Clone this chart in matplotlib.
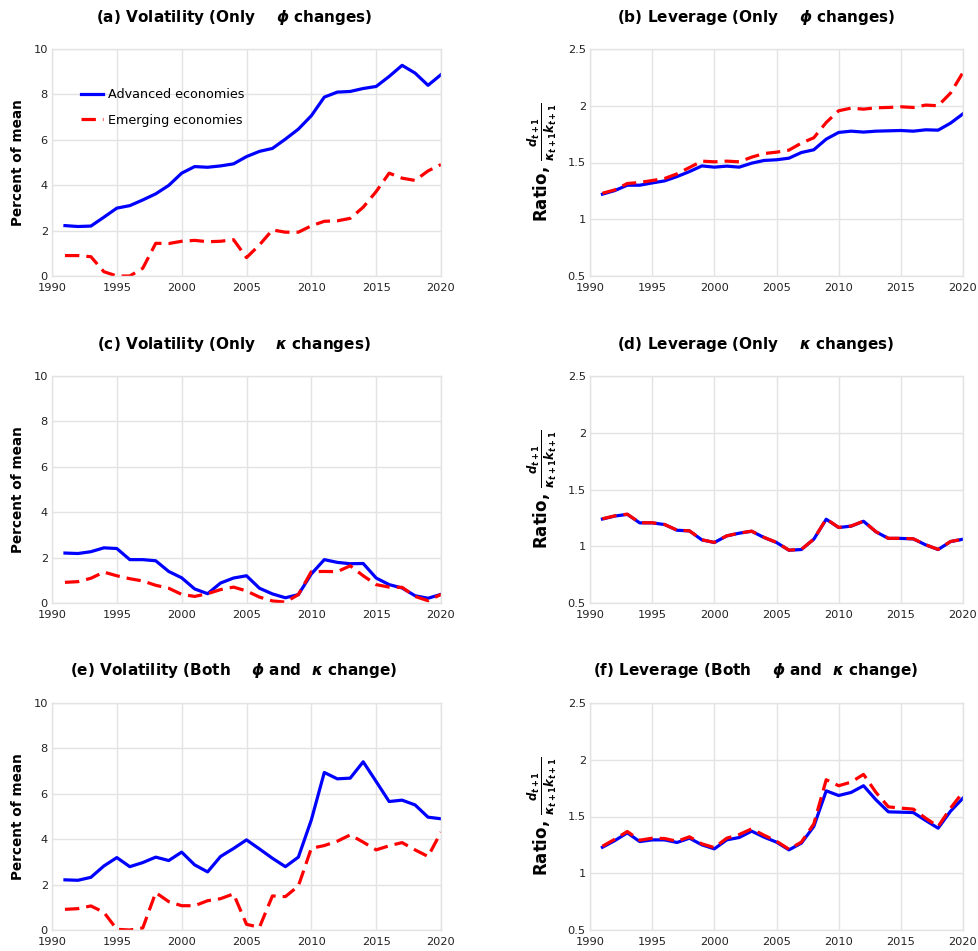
import matplotlib
matplotlib.use("Agg")
import matplotlib.pyplot as plt

# bold math symbols in titles and the ratio label
plt.rcParams["mathtext.fontset"] = "custom"
plt.rcParams["mathtext.it"] = "DejaVu Sans:italic:bold"
plt.rcParams["mathtext.rm"] = "DejaVu Sans:bold"
plt.rcParams["mathtext.bf"] = "DejaVu Sans:bold"

years = list(range(1991, 2021))

# (a) volatility, only phi changes
vol_phi_adv = [2.22, 2.18, 2.20, 2.59, 2.99, 3.10, 3.35, 3.62, 3.99, 4.53,
               4.82, 4.79, 4.85, 4.94, 5.26, 5.49, 5.62, 6.03, 6.47, 7.06,
               7.88, 8.10, 8.13, 8.26, 8.35, 8.79, 9.28, 8.94, 8.40, 8.87]
vol_phi_emg = [0.90, 0.90, 0.85, 0.19, 0.00, 0.00, 0.34, 1.44, 1.43, 1.53,
               1.57, 1.51, 1.53, 1.60, 0.81, 1.37, 2.03, 1.93, 1.93, 2.21,
               2.41, 2.43, 2.54, 3.03, 3.72, 4.53, 4.31, 4.21, 4.63, 4.91]

# (b) leverage, only phi changes
lev_phi_adv = [1.221, 1.253, 1.300, 1.300, 1.320, 1.338, 1.376, 1.420, 1.470, 1.459,
               1.468, 1.459, 1.494, 1.518, 1.524, 1.538, 1.588, 1.612, 1.706, 1.765,
               1.776, 1.768, 1.776, 1.779, 1.782, 1.776, 1.788, 1.785, 1.847, 1.929]
lev_phi_emg = [1.229, 1.259, 1.315, 1.324, 1.341, 1.359, 1.400, 1.456, 1.512, 1.506,
               1.512, 1.506, 1.547, 1.579, 1.591, 1.609, 1.671, 1.718, 1.853, 1.956,
               1.979, 1.970, 1.982, 1.985, 1.991, 1.985, 2.006, 2.000, 2.112, 2.294]

# (c) volatility, only kappa changes
vol_kap_adv = [2.20, 2.18, 2.26, 2.43, 2.40, 1.91, 1.91, 1.86, 1.39, 1.11,
               0.62, 0.41, 0.88, 1.10, 1.20, 0.65, 0.40, 0.23, 0.37, 1.28,
               1.91, 1.79, 1.73, 1.74, 1.10, 0.81, 0.66, 0.32, 0.21, 0.38]
vol_kap_emg = [0.91, 0.94, 1.09, 1.36, 1.20, 1.07, 0.97, 0.78, 0.65, 0.38,
               0.29, 0.41, 0.59, 0.70, 0.53, 0.26, 0.09, 0.04, 0.37, 1.38,
               1.39, 1.38, 1.64, 1.20, 0.81, 0.70, 0.69, 0.29, 0.10, 0.38]

# (d) leverage, only kappa changes
lev_kap_adv = [1.240, 1.266, 1.281, 1.206, 1.206, 1.191, 1.141, 1.135, 1.056, 1.033,
               1.091, 1.115, 1.132, 1.077, 1.033, 0.965, 0.971, 1.062, 1.238, 1.165,
               1.177, 1.220, 1.127, 1.069, 1.069, 1.065, 1.012, 0.971, 1.041, 1.062]
lev_kap_emg = [1.242, 1.268, 1.283, 1.207, 1.207, 1.192, 1.142, 1.136, 1.057, 1.034,
               1.092, 1.116, 1.133, 1.078, 1.034, 0.966, 0.972, 1.063, 1.240, 1.166,
               1.178, 1.221, 1.128, 1.070, 1.070, 1.066, 1.013, 0.972, 1.042, 1.063]

# (e) volatility, both change
vol_both_adv = [2.21, 2.19, 2.32, 2.82, 3.19, 2.79, 2.97, 3.21, 3.06, 3.43,
                2.87, 2.56, 3.24, 3.59, 3.97, 3.57, 3.16, 2.79, 3.21, 4.85,
                6.94, 6.66, 6.69, 7.41, 6.54, 5.66, 5.72, 5.51, 4.97, 4.90]
vol_both_emg = [0.91, 0.94, 1.06, 0.78, 0.03, 0.00, 0.09, 1.65, 1.25, 1.07,
                1.07, 1.29, 1.38, 1.59, 0.25, 0.12, 1.50, 1.47, 1.94, 3.60,
                3.72, 3.91, 4.19, 3.87, 3.53, 3.71, 3.85, 3.53, 3.24, 4.31]

# (f) leverage, both change
lev_both_adv = [1.229, 1.288, 1.356, 1.279, 1.294, 1.294, 1.271, 1.309, 1.250, 1.215,
                1.294, 1.315, 1.371, 1.318, 1.274, 1.206, 1.265, 1.412, 1.726, 1.685,
                1.712, 1.771, 1.647, 1.541, 1.538, 1.535, 1.465, 1.397, 1.547, 1.662]
lev_both_emg = [1.238, 1.300, 1.368, 1.291, 1.309, 1.306, 1.282, 1.321, 1.259, 1.226,
                1.309, 1.341, 1.391, 1.335, 1.282, 1.212, 1.274, 1.435, 1.824, 1.771,
                1.803, 1.871, 1.712, 1.585, 1.574, 1.565, 1.485, 1.412, 1.574, 1.715]

titles = [
    r"(a) Volatility (Only    $\phi$ changes)",
    r"(b) Leverage (Only    $\phi$ changes)",
    r"(c) Volatility (Only    $\kappa$ changes)",
    r"(d) Leverage (Only    $\kappa$ changes)",
    r"(e) Volatility (Both    $\phi$ and  $\kappa$ change)",
    r"(f) Leverage (Both    $\phi$ and  $\kappa$ change)",
]
panels = [
    (vol_phi_adv, vol_phi_emg), (lev_phi_adv, lev_phi_emg),
    (vol_kap_adv, vol_kap_emg), (lev_kap_adv, lev_kap_emg),
    (vol_both_adv, vol_both_emg), (lev_both_adv, lev_both_emg),
]

W, H = 979, 951
fig = plt.figure(figsize=(W / 100, H / 100), dpi=100)

# axes boxes in pixels: left, right, top, bottom
col_x = [(52, 441), (590, 963)]
row_y = [(49, 276), (376, 603), (703, 930)]
title_x = [234, 756]
title_y = [17, 344, 670]

grid_col = "#e3e3e3"
for i, (title, (adv, emg)) in enumerate(zip(titles, panels)):
    r, c = divmod(i, 2)
    x0, x1 = col_x[c]
    y0, y1 = row_y[r]
    ax = fig.add_axes([x0 / W, 1 - y1 / H, (x1 - x0) / W, (y1 - y0) / H])

    ax.plot(years, adv, color="#0000ff", lw=2.3, label="Advanced economies")
    ax.plot(years, emg, color="#ff0000", lw=2.3, dashes=(4.5, 2.2),
            label="Emerging economies")

    ax.set_xlim(1990, 2020)
    ax.set_xticks(range(1990, 2021, 5))
    if c == 0:
        ax.set_ylim(0, 10)
        ax.set_yticks(range(0, 11, 2))
        ax.set_ylabel("Percent of mean", fontsize=9.8, fontweight="bold",
                      labelpad=6)
    else:
        ax.set_ylim(0.5, 2.5)
        ax.set_yticks([0.5, 1, 1.5, 2, 2.5])
        ax.set_yticklabels(["0.5", "1", "1.5", "2", "2.5"])
        ax.set_ylabel(r"Ratio, $\frac{d_{t+1}}{\kappa_{t+1}k_{t+1}}$",
                      fontsize=12, fontweight="bold", labelpad=6)

    ax.grid(True, color=grid_col, lw=1)
    ax.set_axisbelow(True)
    for s in ax.spines.values():
        s.set_color(grid_col)
        s.set_linewidth(1)
    ax.tick_params(length=0, labelsize=8.2, colors="#222222")
    ax.tick_params(axis="x", pad=5)
    ax.tick_params(axis="y", pad=3)

    fig.text(title_x[c] / W, 1 - title_y[r] / H, title,
             ha="center", va="center", fontsize=11, fontweight="bold")

    if i == 0:
        ax.legend(loc="upper left", bbox_to_anchor=(0.062, 0.85), frameon=False,
                  fontsize=9.2, handlelength=1.7, handletextpad=0.4,
                  labelspacing=1.0, borderaxespad=0)

fig.savefig("out.png", dpi=100, facecolor="white")
